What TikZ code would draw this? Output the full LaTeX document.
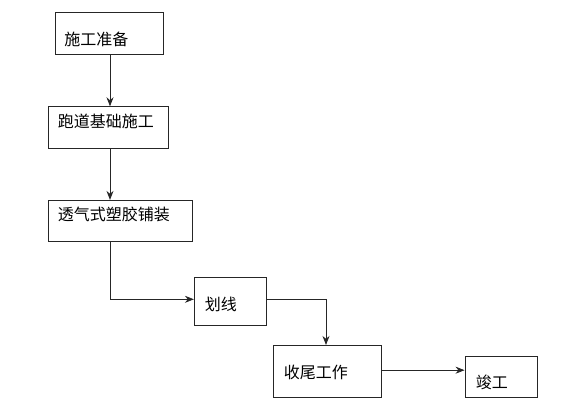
\documentclass[tikz,border=0pt]{standalone}
\usepackage{fontspec}
\setmainfont{Noto Sans CJK SC}
\usetikzlibrary{positioning}
\usetikzlibrary{calc}
\usetikzlibrary{arrows.meta}
\tikzset{FlowStyle/.style={
    x=1pt, y=-1pt,% one unit per pixel, y running down
    box/.style={% the plain boxes
      draw=black!85,
      line width=0.8pt,
      inner sep=0pt,
      minimum width=##1
    },
    txt/.style={% the labels, left aligned
      anchor=west,
      inner sep=0pt,
      font=\fontsize{16}{16}\selectfont
    },
    >={Stealth[length=9pt,width=7pt]},
    line width=0.8pt,
    draw=black!85
  }
}

\begin{document}
\begin{tikzpicture}[FlowStyle]
    \useasboundingbox (0,0) rectangle (582,419);
    % boxes
    \node [box=108pt, minimum height=42pt] (prep) at (109,33.3) {};
    \node [box=120pt, minimum height=41.6pt] (base) at (108.3,127.5) {};
    \node [box=144.4pt, minimum height=41pt] (pave) at (120.5,220.8) {};
    \node [box=72.4pt, minimum height=48pt] (hua) at (230.5,301.3) {};
    \node [box=108.4pt, minimum height=51.7pt] (finish) at (327.5,371.2) {};
    \node [box=72.7pt, minimum height=40.7pt] (done) at (501.3,376.7) {};
    % labels
    \node [txt] (prepText) at (64,39) {施工准备};
    \node [txt] (baseText) at (57.5,121.5) {跑道基础施工};
    \node [txt] (paveText) at (57.5,214.7) {透气式塑胶铺装};
    \node [txt] (huaText) at (204.5,304.5) {划线};
    \node [txt] (finishText) at (283.5,372) {收尾工作};
    \node [txt] (doneText) at (475.5,382) {竣工};
    % arrows
    \draw [->] ([xshift=1pt]prep.south) -- ([xshift=1pt]prep.south |- base.north);
    \draw [->] ([xshift=1.7pt]base.south) -- ([xshift=1.7pt]base.south |- pave.north);
    \draw [->] ([xshift=-10pt]pave.south) |- ([yshift=2pt]hua.west);
    \draw [->] ([yshift=2pt]hua.east) -| ([xshift=-1.5pt]finish.north);
    \draw [->] ([yshift=1pt]finish.east) -- ([yshift=1pt]finish.east -| done.west);
\end{tikzpicture}
\end{document}
